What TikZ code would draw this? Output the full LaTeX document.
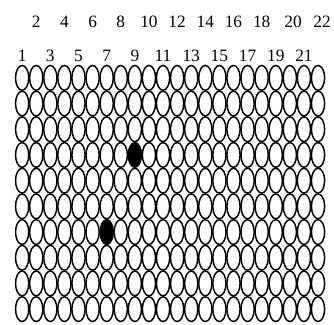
\documentclass[tikz,border=0pt]{standalone}
\usepackage{fontspec}
\setmainfont{Liberation Serif}
\usetikzlibrary{positioning}

\begin{document}
\begin{tikzpicture}[x=0.75pt, y=-0.75pt,
    cell/.style={draw=black, line width=1.1pt},
    hit/.style={fill=black},
    num/.style={inner sep=0pt, font=\fontsize{13}{15}\selectfont}
]
    \useasboundingbox (0,0) rectangle (334,324);

    \foreach \c in {1,...,22} {
        \foreach \r in {1,...,10} {
            \draw[cell] ({8.05+14.09*\c},{52.15+25.7*\r}) ellipse [x radius=6.6, y radius=12.4];
        }
    }

    \fill[hit] ({8.05+14.09*9},{52.15+25.7*4}) ellipse [x radius=6.6, y radius=12.4];
    \fill[hit] ({8.05+14.09*7},{52.15+25.7*7}) ellipse [x radius=6.6, y radius=12.4];

    \foreach \c in {1,3,...,21}
        \node[num] (n\c) at ({8.05+14.09*\c},56) {\c};
    \foreach \c in {2,4,...,18}
        \node[num] (n\c) at ({8.05+14.09*\c},21.5) {\c};
    \node[num] (n20) at (293,21.5) {20};
    \node[num] (n22) at (322,21.5) {22};
\end{tikzpicture}
\end{document}
